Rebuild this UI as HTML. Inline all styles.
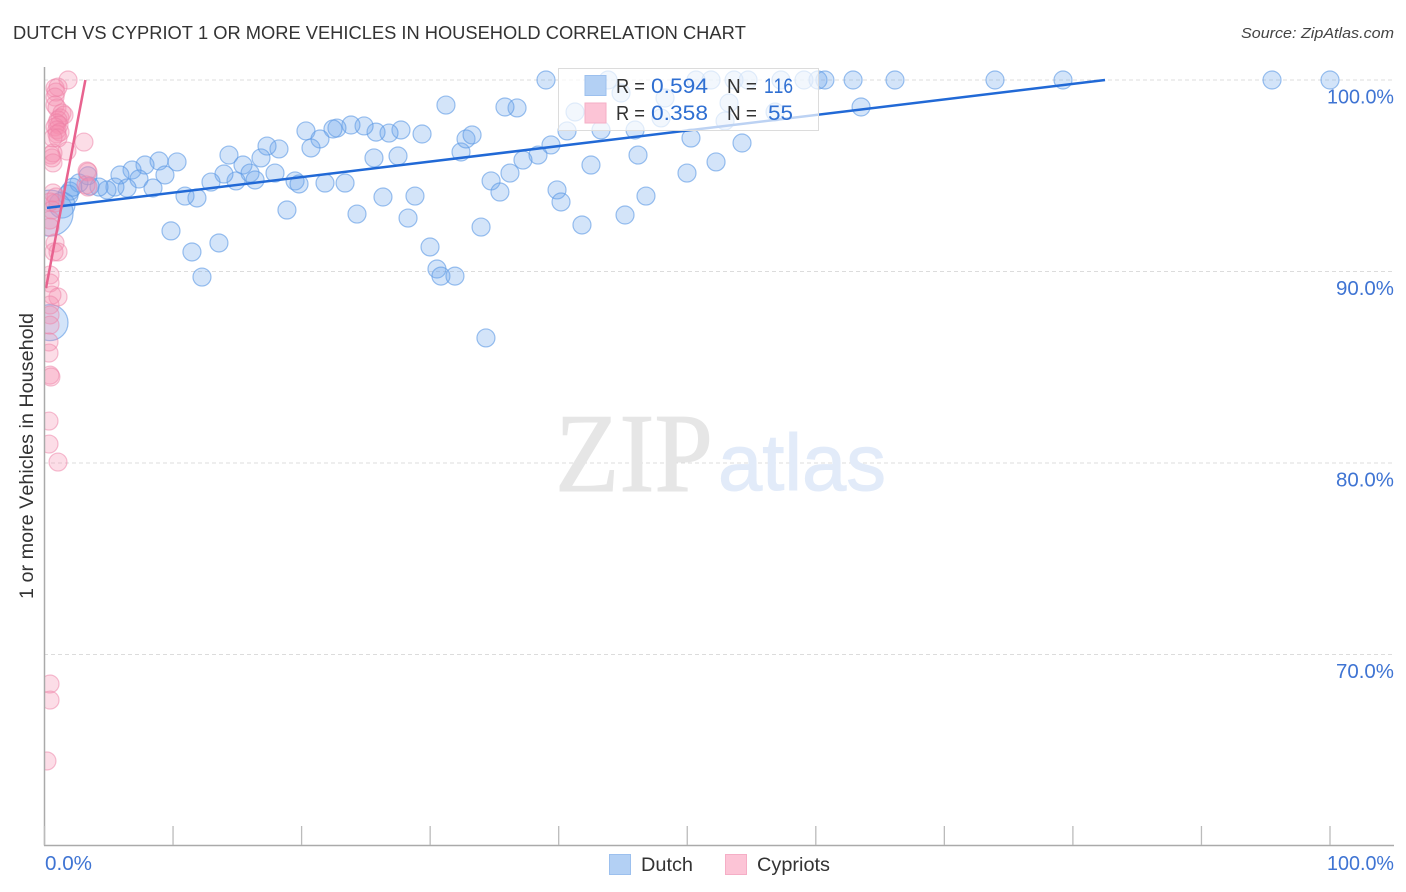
<!DOCTYPE html>
<html lang="en">
<head>
<meta charset="utf-8">
<title>Dutch vs Cypriot 1 or More Vehicles in Household Correlation Chart</title>
<style>
html,body{margin:0;padding:0;background:#fff;}
body{width:1406px;height:892px;overflow:hidden;}
svg{display:block;font-family:"Liberation Sans",sans-serif;font-kerning:none;}
</style>
</head>
<body>
<svg id="chart" xmlns="http://www.w3.org/2000/svg" width="1406" height="892" viewBox="0 0 1406 892">
<defs><clipPath id="plot-clip"><rect x="45" y="60" width="1350" height="785"/></clipPath></defs>
<rect width="1406" height="892" fill="#fff"/>
<text x="13" y="39" font-size="18.5" fill="#333" textLength="733" lengthAdjust="spacingAndGlyphs">DUTCH VS CYPRIOT 1 OR MORE VEHICLES IN HOUSEHOLD CORRELATION CHART</text>
<text x="1394" y="38" font-size="15" font-style="italic" fill="#444" text-anchor="end" textLength="153" lengthAdjust="spacingAndGlyphs">Source: ZipAtlas.com</text>
<text transform="translate(33 456) rotate(-90)" font-size="19" fill="#333" text-anchor="middle" textLength="286" lengthAdjust="spacingAndGlyphs">1 or more Vehicles in Household</text>
<g id="grid"></g>
<g>
<text x="555" y="491" font-family="'Liberation Serif',serif" font-size="112" fill="#e6e6e6" stroke="#e6e6e6" stroke-width="1" textLength="158" lengthAdjust="spacingAndGlyphs">ZIP</text>
<text x="718" y="490" font-size="80" fill="#e2ebf9" stroke="#e2ebf9" stroke-width="1" textLength="168" lengthAdjust="spacingAndGlyphs">atlas</text>
</g>
<g id="dots" clip-path="url(#plot-clip)"></g>
<g id="trends" clip-path="url(#plot-clip)"></g>
<g id="axes"></g>
<g>
<rect x="558.5" y="68.5" width="260" height="62" fill="#fff" fill-opacity="0.7" stroke="#dcdcdc"/>
<rect x="585" y="75.5" width="21" height="20" fill="#b3d0f4" stroke="#9cc0ee"/>
<rect x="585" y="103" width="21" height="20" fill="#fcc4d6" stroke="#f5aec6"/>
<text x="616" y="93" font-size="20" fill="#333" textLength="29" lengthAdjust="spacingAndGlyphs">R =</text>
<text x="651" y="93" font-size="21" fill="#2f6fd2" textLength="57" lengthAdjust="spacingAndGlyphs">0.594</text>
<text x="727" y="93" font-size="20" fill="#333" textLength="30" lengthAdjust="spacingAndGlyphs">N =</text>
<text x="764" y="93" font-size="21" fill="#2f6fd2" textLength="29" lengthAdjust="spacingAndGlyphs">116</text>
<text x="616" y="120" font-size="20" fill="#333" textLength="29" lengthAdjust="spacingAndGlyphs">R =</text>
<text x="651" y="120" font-size="21" fill="#2f6fd2" textLength="57" lengthAdjust="spacingAndGlyphs">0.358</text>
<text x="727" y="120" font-size="20" fill="#333" textLength="30" lengthAdjust="spacingAndGlyphs">N =</text>
<text x="768" y="120" font-size="21" fill="#2f6fd2" textLength="25" lengthAdjust="spacingAndGlyphs">55</text>
</g>
<g>
<rect x="609.5" y="854.5" width="21" height="20" fill="#b3d0f4" stroke="#9cc0ee"/>
<text x="641" y="871" font-size="19" fill="#333" textLength="52" lengthAdjust="spacingAndGlyphs">Dutch</text>
<rect x="725.5" y="854.5" width="21" height="20" fill="#fcc4d6" stroke="#f5aec6"/>
<text x="757" y="871" font-size="19" fill="#333" textLength="73" lengthAdjust="spacingAndGlyphs">Cypriots</text>
</g>
</svg>
<script>
const yTicks = [100, 90, 80, 70];
const yTickLabels = ["100.0%", "90.0%", "80.0%", "70.0%"];
const xTicks = [0, 10, 20, 30, 40, 50, 60, 70, 80, 90, 100];
const xEndLabels = ["0.0%", "100.0%"];

const dutchX = [39.01,43.84,50.68,51.85,53.64,54.73,57.29,59.08,60.17,60.71,62.9,66.16,73.94,79.23,95.49,100,
44.85,48.27,53.25,41.27,56.83,47.96,52.94,40.65,43.29,45.94,50.29,39.4,38.39,37.22,54.26,46.17,42.51,52.24,49.98,39.87,40.18,46.79,45.16,41.81,63.52,
36.76,35.82,31.23,29.37,27.73,26.8,25.79,24.86,23.84,22.75,22.44,20.34,21.43,20.73,18.24,17.31,16.84,14.35,17.93,15.44,15.99,16.38,14.9,13.96,12.95,19.49,19.8,21.82,23.38,25.63,27.5,
18.86,24.31,26.33,28.82,28.28,29.99,30.53,30.84,31.93,34.34,33.96,34.74,35.43,36.21,32.4,32.79,33.26,
10.31,8.91,7.82,6.81,5.87,7.35,9.37,8.44,6.42,5.48,4.86,4.24,3.54,2.68,3.38,1.98,1.83,1.36,10.93,11.86,9.84,11.47,13.57,12.25,0.43,0.43,2.2];
const dutchY = [100,100,100,100,100,100,100,100,100,100,100,100,100,100,100,100,
99.32,99.06,98.8,98.33,98.33,98.02,97.86,97.34,97.39,97.39,96.97,96.61,96.08,95.82,96.71,96.08,95.56,95.72,95.14,94.26,93.63,93.94,92.95,92.43,98.59,
98.54,98.59,98.69,97.18,97.39,97.23,97.28,97.6,97.65,97.49,97.44,97.34,96.92,96.45,96.4,96.55,95.93,96.08,95.14,95.56,95.14,94.78,94.73,95.09,94.67,94.73,94.57,94.62,94.62,95.93,96.03,
93.21,93,93.89,93.94,92.79,91.28,90.13,89.76,89.76,86.53,92.32,94.73,94.15,95.14,96.24,96.92,97.13,
95.72,95.77,95.56,95.3,95.04,94.83,95.04,94.36,94.36,94.41,94.26,94.41,94.46,94.62,95,94.2,93.99,93.47,93.94,93.84,92.12,91.02,91.49,89.71,93.05,87.33,94.4];
const dutchLargeSizes = {113: 23, 114: 18, 105: 10, 106: 13};

const cypriotX = [1.83,0.82,1.05,0.89,0.82,0.82,0.97,1.36,1.52,1.21,1.05,0.97,1.13,0.82,0.97,1.21,0.97,1.05,0.66,3.07,1.75,0.5,0.66,0.58,0.66,3.31,3.38,3.38,3.23,0.66,0.89,0.82,0.43,0.58,0.43,0.43,0.82,0.74,1.05,0.43,0.43,1.05,0.58,0.43,0.43,0.43,0.35,0.35,0.43,0.5,0.35,0.35,1.05,0.43,0.43,0.19];
const cypriotY = [100,99.58,99.63,99.37,99.11,98.69,98.54,98.28,98.17,98.02,97.91,97.75,97.65,97.55,97.39,97.28,97.18,96.97,96.97,96.76,96.29,96.08,96.19,95.93,95.67,95.25,95.2,94.41,94.52,94.1,93.89,93.58,93.63,93.21,92.69,92.32,91.49,91.02,91.02,89.82,89.4,88.67,88.77,88.25,87.73,87.2,86.32,85.74,84.59,84.49,82.19,80.99,80.05,68.46,67.62,64.44];

const dutchTrendX = [0.19, 82.5];
const dutchTrendY = [93.32, 100];
const cypriotTrendX = [0.12, 3.18];
const cypriotTrendY = [89.14, 100];

const NS = "http://www.w3.org/2000/svg";
function xScale(v) { return 44.5 + v * 12.855; }
function yScale(v) { return 80 + (100 - v) * 19.15; }
function make(parent, tag, attrs) {
  const el = document.createElementNS(NS, tag);
  for (const k in attrs) el.setAttribute(k, attrs[k]);
  parent.appendChild(el);
  return el;
}
const grid = document.getElementById("grid");
const axes = document.getElementById("axes");
const dots = document.getElementById("dots");
const trends = document.getElementById("trends");

yTicks.forEach(function (t, i) {
  const line = make(grid, "line", {x1: 44, x2: 1394, y1: yScale(t), y2: yScale(t), stroke: "#dcdcdc", "stroke-width": 1, "stroke-dasharray": "4 3"});
  
  
  const label = make(axes, "text", {x: 1394, y: yScale(t) + 23.5, "font-size": 20, fill: "#3f74d3", "text-anchor": "end", textLength: i === 0 ? 67 : 58, lengthAdjust: "spacingAndGlyphs"});
  
  
  label.textContent = yTickLabels[i];
});

const axisLeft = make(axes, "line", {x1: 44.5, x2: 44.5, y1: 67, y2: 845.5, stroke: "#aaa", "stroke-width": 1.5});


const axisBottom = make(axes, "line", {x1: 44, x2: 1394, y1: 845.5, y2: 845.5, stroke: "#aaa", "stroke-width": 1.5});


xTicks.forEach(function (t) {
  const tick = make(axes, "line", {x1: xScale(t), x2: xScale(t), y1: 826, y2: 845, stroke: "#bbb", "stroke-width": 1.3});
  
  
});
const xLabel0 = make(axes, "text", {x: 45, y: 870, "font-size": 20, fill: "#3f74d3", textLength: 47, lengthAdjust: "spacingAndGlyphs"});


xLabel0.textContent = xEndLabels[0];
const xLabel1 = make(axes, "text", {x: 1394, y: 870, "font-size": 20, fill: "#3f74d3", "text-anchor": "end", textLength: 67, lengthAdjust: "spacingAndGlyphs"});


xLabel1.textContent = xEndLabels[1];

dutchX.forEach(function (v, i) {
  const r = dutchLargeSizes[i] || 9;
  const c = make(dots, "circle", {cx: xScale(v), cy: yScale(dutchY[i]), r: r, fill: "#6ea6ec", "fill-opacity": 0.3, stroke: "#5a97e4", "stroke-opacity": 0.6, "stroke-width": 1.2});
  
  
});
cypriotX.forEach(function (v, i) {
  const c = make(dots, "circle", {cx: xScale(v), cy: yScale(cypriotY[i]), r: 9, fill: "#f48fb1", "fill-opacity": 0.3, stroke: "#ee7fa5", "stroke-opacity": 0.5, "stroke-width": 1.2});
  
  
});
const trendDutch = make(trends, "line", {x1: xScale(dutchTrendX[0]), y1: yScale(dutchTrendY[0]), x2: xScale(dutchTrendX[1]), y2: yScale(dutchTrendY[1]), stroke: "#2169d6", "stroke-width": 2.5});


const trendCypriot = make(trends, "line", {x1: xScale(cypriotTrendX[0]), y1: yScale(cypriotTrendY[0]), x2: xScale(cypriotTrendX[1]), y2: yScale(cypriotTrendY[1]), stroke: "#e8638f", "stroke-width": 2.5});


</script>
</body>
</html>
